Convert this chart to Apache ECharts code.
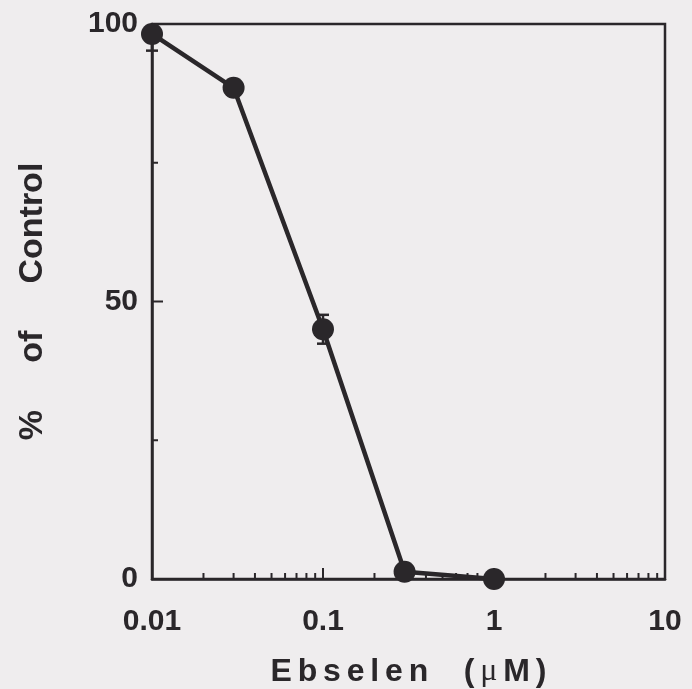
<!DOCTYPE html>
<html>
<head>
<meta charset="utf-8">
<script src="https://cdn.jsdelivr.net/npm/echarts@6/dist/echarts.min.js"></script>
<style>
html,body{margin:0;padding:0;background:#efedee;}
#chart{width:692px;height:689px;}
</style>
</head>
<body>
<div id="chart"></div>
<script>
// ---- data ----
const ebselenUM = [0.01, 0.03, 0.1, 0.3, 1];
const pctControl = [98.2, 88.5, 45, 1.3, 0];
const semUp = [0, 0, 2.6, 0, 0];
const semDown = [3, 0, 2.6, 0, 0];
const xTickLabels = ['0.01', '0.1', '1', '10'];
const yTickLabels = ['0', '50', '100'];
const xMajorTicks = [0.1, 1];
const xMinorTicks = [0.02, 0.03, 0.04, 0.05, 0.06, 0.07, 0.08, 0.09,
                     0.2, 0.3, 0.4, 0.5, 0.6, 0.7, 0.8, 0.9,
                     2, 3, 4, 5, 6, 7, 8, 9];
const yMajorTicks = [50];
const yMinorTicks = [25, 75];

const INK = '#2a272a';
const FONT = '"Liberation Sans", Arial, sans-serif';

function spaced(word, tok) {
  return word.split('').map(c => '{' + tok + '|' + c + '}').join('{s| }');
}
const xName = spaced('Ebselen', 't') + '{g|    }' +
  '{t|(}{s| }{m|\u03bc}{s| }{t|M}{s| }{t|)}';

const chart = echarts.init(document.getElementById('chart'), null, {renderer: 'canvas'});

function tickSeries(vals, len, axis) {
  return {
    type: 'custom',
    silent: true,
    z: 3,
    data: vals.map(v => [v]),
    renderItem: function (params, api) {
      const v = api.value(0);
      if (axis === 'x') {
        const p = api.coord([v, 0]);
        return {type: 'line', shape: {x1: p[0], y1: p[1], x2: p[0], y2: p[1] - len},
          style: {stroke: INK, lineWidth: 2}};
      } else {
        const p = api.coord([0.01, v]);
        return {type: 'line', shape: {x1: p[0], y1: p[1], x2: p[0] + len, y2: p[1]},
          style: {stroke: INK, lineWidth: 2}};
      }
    }
  };
}

const option = {
  backgroundColor: '#efedee',
  animation: false,
  grid: {left: 152, right: 27, top: 24, bottom: 110, show: true,
         containLabel: false, outerBoundsMode: 'none',
         borderColor: INK, borderWidth: 2.5, backgroundColor: 'transparent'},
  xAxis: {
    type: 'log', logBase: 10, min: 0.01, max: 10,
    axisLine: {show: true, lineStyle: {color: INK, width: 2.5}},
    axisTick: {show: false},
    splitLine: {show: false},
    axisLabel: {
      color: INK, fontFamily: FONT, fontWeight: 'bold', fontSize: 30, margin: 28,
      formatter: function (v, i) { return xTickLabels[i] !== undefined ? xTickLabels[i] : ''; }
    },
    name: xName,
    nameLocation: 'middle',
    nameGap: 77,
    nameTextStyle: {
      rich: {
        t: {fontFamily: FONT, fontWeight: 'bold', fontSize: 32, color: INK},
        s: {fontFamily: FONT, fontSize: 21, color: INK},
        g: {fontFamily: FONT, fontSize: 32, color: INK},
        m: {fontFamily: '"Liberation Serif", serif', fontWeight: 'normal', fontSize: 32, color: INK}
      }
    }
  },
  yAxis: {
    type: 'value', min: 0, max: 100, interval: 25,
    axisLine: {show: true, lineStyle: {color: INK, width: 2.5}},
    axisTick: {show: false},
    splitLine: {show: false},
    axisLabel: {
      color: INK, fontFamily: FONT, fontWeight: 'bold', fontSize: 30, margin: 14,
      formatter: function (v) { return yTickLabels.indexOf(String(v)) >= 0 ? String(v) : ''; }
    },
    name: '%     of     Control',
    nameLocation: 'middle',
    nameRotate: 90,
    nameGap: 102,
    nameTextStyle: {color: INK, fontFamily: FONT, fontWeight: 'bold', fontSize: 34}
  },
  series: [
    tickSeries(xMajorTicks, 11, 'x'),
    tickSeries(xMinorTicks, 6, 'x'),
    tickSeries(yMajorTicks, 11, 'y'),
    tickSeries(yMinorTicks, 6, 'y'),
    {
      type: 'custom',
      silent: true,
      z: 4,
      data: ebselenUM.map((x, i) => [x, pctControl[i], semUp[i], semDown[i]]),
      renderItem: function (params, api) {
        const x = api.value(0), y = api.value(1), up = api.value(2), dn = api.value(3);
        const children = [];
        const c = api.coord([x, y]);
        const cap = 6;
        if (up > 0) {
          const t = api.coord([x, y + up]);
          children.push({type: 'line', shape: {x1: c[0], y1: c[1], x2: t[0], y2: t[1]}, style: {stroke: INK, lineWidth: 2.5}});
          children.push({type: 'line', shape: {x1: t[0] - cap, y1: t[1], x2: t[0] + cap, y2: t[1]}, style: {stroke: INK, lineWidth: 2.5}});
        }
        if (dn > 0) {
          const b = api.coord([x, y - dn]);
          children.push({type: 'line', shape: {x1: c[0], y1: c[1], x2: b[0], y2: b[1]}, style: {stroke: INK, lineWidth: 2.5}});
          children.push({type: 'line', shape: {x1: b[0] - cap, y1: b[1], x2: b[0] + cap, y2: b[1]}, style: {stroke: INK, lineWidth: 2.5}});
        }
        return {type: 'group', children: children};
      }
    },
    {
      type: 'line',
      z: 5,
      data: ebselenUM.map((x, i) => [x, pctControl[i]]),
      symbol: 'circle',
      symbolSize: 22,
      showSymbol: true,
      clip: false,
      lineStyle: {color: INK, width: 4.5},
      itemStyle: {color: INK, borderWidth: 0}
    }
  ]
};
chart.setOption(option);
</script>
</body>
</html>
